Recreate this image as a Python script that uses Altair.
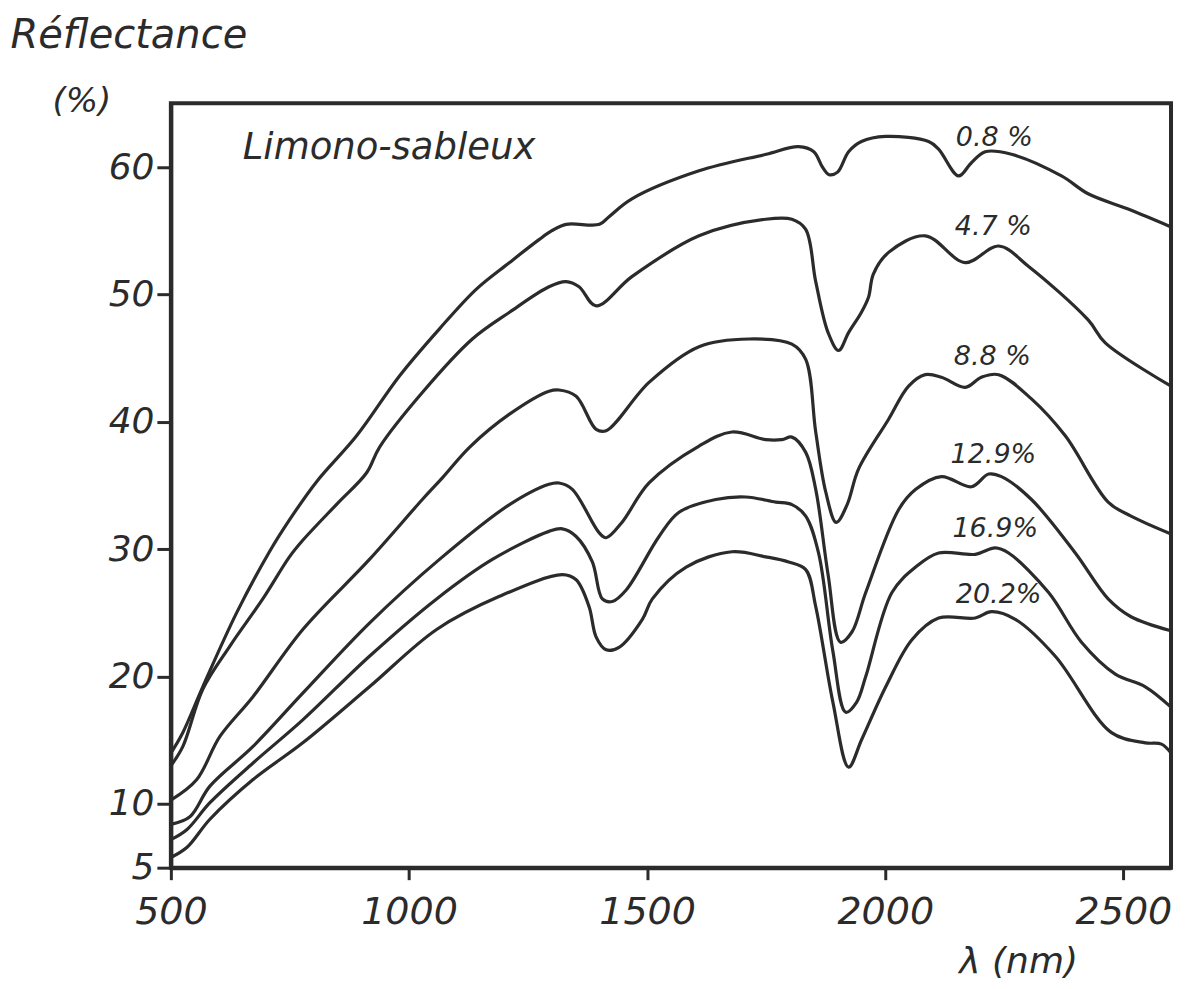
import altair as alt
import pandas as pd

# ---- data (wavelength nm, reflectance %) ----
x_08 = [500, 525, 567, 638, 707, 749, 806, 890, 980, 1064, 1141, 1211, 1273, 1300, 1330, 1400, 1420, 1468, 1609, 1750, 1818, 1850, 1868, 1882, 1900, 1923, 1950, 2001, 2091, 2112, 2154, 2180, 2210, 2265, 2370, 2426, 2510, 2600]
y_08 = [14.0, 15.6, 19.2, 25.0, 29.8, 32.3, 35.3, 38.9, 43.6, 47.3, 50.4, 52.5, 54.3, 55.0, 55.5, 55.5, 56.1, 57.5, 59.7, 61.0, 61.6, 61.2, 60.0, 59.4, 59.6, 61.2, 62.0, 62.4, 62.0, 61.4, 59.3, 60.3, 61.2, 61.0, 59.3, 57.9, 56.7, 55.3]

x_47 = [500, 525, 567, 624, 693, 749, 777, 850, 911, 938, 1028, 1133, 1211, 1294, 1330, 1357, 1393, 1468, 1609, 1749, 1804, 1833, 1854, 1880, 1902, 1923, 1950, 1965, 1975, 2007, 2084, 2168, 2238, 2301, 2426, 2462, 2600]
y_47 = [13.0, 14.5, 19.0, 22.4, 26.1, 29.4, 30.7, 33.6, 36.0, 38.0, 42.3, 46.5, 48.6, 50.6, 51.0, 50.6, 49.1, 51.4, 54.6, 55.9, 55.9, 55.1, 51.0, 47.0, 45.6, 47.0, 48.6, 49.8, 51.6, 53.3, 54.6, 52.5, 53.8, 52.2, 48.0, 46.2, 42.8]

x_88 = [500, 554, 603, 672, 777, 917, 1028, 1070, 1127, 1211, 1294, 1315, 1351, 1393, 1414, 1504, 1609, 1714, 1804, 1833, 1854, 1875, 1897, 1920, 1944, 2007, 2049, 2084, 2118, 2168, 2202, 2238, 2307, 2378, 2468, 2516, 2600]
y_88 = [10.3, 11.9, 15.3, 18.4, 23.7, 29.2, 33.9, 35.6, 38.0, 40.6, 42.4, 42.5, 42.0, 39.4, 39.3, 43.1, 45.9, 46.5, 46.1, 44.9, 39.2, 34.5, 32.1, 33.5, 36.3, 40.2, 42.8, 43.7, 43.5, 42.7, 43.5, 43.7, 41.8, 38.9, 33.7, 32.6, 31.2]

x_129 = [500, 540, 582, 672, 777, 917, 1064, 1211, 1294, 1315, 1343, 1399, 1414, 1447, 1504, 1609, 1678, 1749, 1783, 1804, 1833, 1854, 1880, 1906, 1930, 1959, 2028, 2064, 2118, 2181, 2217, 2244, 2307, 2399, 2468, 2516, 2600]
y_129 = [8.4, 9.0, 11.4, 14.5, 18.7, 24.2, 29.2, 33.5, 35.1, 35.2, 34.7, 31.3, 30.9, 32.1, 35.2, 38.1, 39.2, 38.6, 38.6, 38.8, 37.6, 34.7, 28.0, 22.7, 23.5, 26.6, 33.1, 34.7, 35.7, 34.9, 35.9, 35.7, 33.9, 29.7, 26.1, 24.7, 23.6]

x_169 = [500, 534, 582, 672, 777, 917, 1058, 1175, 1294, 1322, 1351, 1385, 1406, 1427, 1456, 1525, 1567, 1644, 1707, 1770, 1804, 1833, 1860, 1890, 1917, 1940, 1959, 2014, 2064, 2112, 2189, 2231, 2259, 2343, 2412, 2483, 2546, 2600]
y_169 = [7.2, 8.0, 10.1, 13.2, 16.6, 21.6, 26.1, 29.2, 31.4, 31.6, 31.0, 29.0, 26.1, 25.9, 26.8, 31.0, 32.9, 33.9, 34.1, 33.7, 33.5, 32.6, 29.7, 22.0, 17.2, 18.0, 20.0, 26.6, 28.6, 29.7, 29.6, 30.1, 29.7, 26.6, 22.7, 20.2, 19.2, 17.6]

x_202 = [500, 534, 582, 672, 777, 917, 1058, 1190, 1322, 1351, 1378, 1393, 1414, 1441, 1490, 1511, 1582, 1678, 1749, 1797, 1833, 1854, 1890, 1923, 1951, 2001, 2056, 2112, 2189, 2223, 2273, 2357, 2475, 2546, 2580, 2600]
y_202 = [5.8, 6.6, 8.8, 11.9, 14.8, 19.2, 23.7, 26.3, 28.0, 27.6, 25.5, 23.1, 22.1, 22.3, 24.5, 26.1, 28.6, 29.8, 29.4, 29.0, 28.4, 25.5, 18.0, 12.9, 15.1, 19.2, 22.9, 24.6, 24.6, 25.1, 24.5, 21.6, 15.6, 14.8, 14.7, 14.0]

series_names = ["0.8", "4.7", "8.8", "12.9", "16.9", "20.2"]
series_x = [x_08, x_47, x_88, x_129, x_169, x_202]
series_y = [y_08, y_47, y_88, y_129, y_169, y_202]

label_text = ["0.8 %", "4.7 %", "8.8 %", "12.9%", "16.9%", "20.2%"]
label_x = [2229, 2227, 2225, 2227, 2231, 2238]
label_y = [62.3, 55.3, 45.1, 37.4, 31.6, 26.4]

x_ticks = [500, 1000, 1500, 2000, 2500]
y_ticks = [5, 10, 20, 30, 40, 50, 60]

INK = "#2b2b2b"
FONT = "DejaVu Sans"

rows = []
for name, xs, ys in zip(series_names, series_x, series_y):
    for xv, yv in zip(xs, ys):
        rows.append({"wl": xv, "refl": yv, "series": name})
df = pd.DataFrame(rows)

labels_df = pd.DataFrame({"wl": label_x, "refl": label_y, "text": label_text})
soil_df = pd.DataFrame({"wl": [651], "refl": [61.5], "text": ["Limono-sableux"]})

xscale = alt.Scale(domain=[500, 2600], nice=False, zero=False)
yscale = alt.Scale(domain=[5, 65], nice=False, zero=False)

x_axis = alt.Axis(
    values=x_ticks, format="d", grid=False,
    labelFont=FONT, labelFontStyle="italic", labelFontSize=38, labelColor=INK,
    labelPadding=14, labelFlush=False, labelOverlap=False,
    tickColor=INK, tickWidth=3, tickSize=12,
    domainColor=INK, domainWidth=4,
    title="λ (nm)", titleFont=FONT, titleFontStyle="italic", titleFontWeight="normal",
    titleFontSize=36, titleColor=INK, titleX=848, titleY=105,
    titleAlign="center", titleBaseline="alphabetic",
)
y_axis = alt.Axis(
    values=y_ticks, format="d", grid=False,
    labelFont=FONT, labelFontStyle="italic", labelFontSize=36, labelColor=INK,
    labelPadding=3, labelFlush=False, labelOverlap=False,
    tickColor=INK, tickWidth=3, tickSize=14,
    domainColor=INK, domainWidth=4,
    title="Réflectance", titleFont=FONT, titleFontStyle="italic", titleFontWeight="normal",
    titleFontSize=40, titleColor=INK, titleAngle=0, titleX=-161, titleY=-56,
    titleAlign="left", titleBaseline="alphabetic",
)

lines = alt.Chart(df).mark_line(
    color=INK, strokeWidth=3.2, interpolate="catmull-rom", clip=True
).encode(
    x=alt.X("wl:Q", scale=xscale, axis=x_axis),
    y=alt.Y("refl:Q", scale=yscale, axis=y_axis),
    detail="series:N",
)

curve_labels = alt.Chart(labels_df).mark_text(
    font=FONT, fontStyle="italic", fontSize=27, color=INK, align="center", baseline="middle"
).encode(
    x=alt.X("wl:Q", scale=xscale),
    y=alt.Y("refl:Q", scale=yscale),
    text="text:N",
)

soil_label = alt.Chart(soil_df).mark_text(
    font=FONT, fontStyle="italic", fontSize=37, color=INK, align="left", baseline="middle"
).encode(
    x=alt.X("wl:Q", scale=xscale),
    y=alt.Y("refl:Q", scale=yscale),
    text="text:N",
)

unit_label = alt.Chart(pd.DataFrame({"text": ["(%)"]})).mark_text(
    font=FONT, fontStyle="italic", fontSize=34, color=INK, align="center", baseline="middle"
).encode(
    x=alt.value(-89), y=alt.value(-1), text="text:N"
)

chart = alt.layer(lines, curve_labels, soil_label, unit_label).properties(
    width=1001, height=765,
    autosize=alt.AutoSizeParams(type="none"),
    padding={"left": 163, "top": 95, "right": 20, "bottom": 120},
    background="white",
).configure_view(stroke=INK, strokeWidth=4)

chart.save("out.html", embed_options={"renderer": "svg", "actions": False})
